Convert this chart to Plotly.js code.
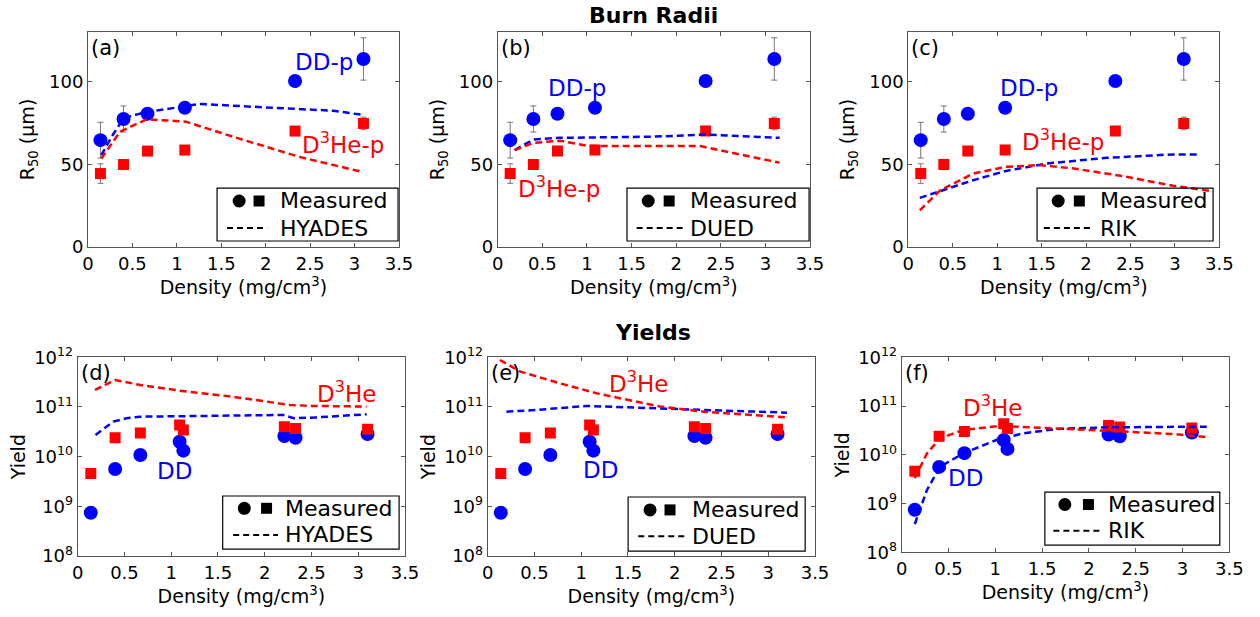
<!DOCTYPE html>
<html><head><meta charset="utf-8">
<script src="https://cdn.plot.ly/plotly-3.0.1.min.js"></script>
<style>html,body{margin:0;padding:0;background:#fff}</style>
</head><body><div id="chart" style="width:1260px;height:617px"></div>
<script>
// ---------- Measured burn radii (R50, µm) ----------
const radDensity = [0.14, 0.40, 0.67, 1.09, 2.33, 3.10];
const ddpR50 = [64.6, 77.4, 80.6, 84.2, 100.4, 113.7];
const ddpR50Err = [10.8, 7.9, 2, 2, 2, 12.8];
const d3hepR50 = [44.4, 49.9, 58.0, 58.6, 70.1, 74.7];
const d3hepR50Err = [5.9, 2, 2, 2, 2, 3.8];

// ---------- Simulated burn radii ----------
const hyadesDdpX = [0.15, 0.27, 0.40, 0.66, 0.81, 1.10, 1.26, 2.0, 2.76, 3.10];
const hyadesDdpR = [55.5, 67, 77.8, 81.8, 82.8, 85.3, 86.5, 84.4, 82.4, 79.8];
const hyadesD3hepX = [0.15, 0.36, 0.66, 1.10, 1.63, 2.38, 3.08];
const hyadesD3hepR = [53.5, 69.7, 77.2, 75.8, 66.7, 54.5, 45.5];

const duedDdpX = [0.19, 0.40, 0.70, 1.74, 2.34, 3.16];
const duedDdpR = [58.6, 65, 66, 66.7, 68, 66];
const duedD3hepX = [0.19, 0.40, 0.70, 1.03, 2.27, 3.16];
const duedD3hepR = [58.6, 63, 64.2, 61, 61, 51];

const rikDdpX = [0.13, 0.36, 0.73, 1.10, 1.56, 2.23, 2.98, 3.26];
const rikDdpR = [29.7, 33.7, 40.4, 46, 50.5, 53.9, 56, 56];
const rikD3hepX = [0.13, 0.36, 0.73, 1.10, 1.48, 1.86, 2.42, 2.98, 3.39];
const rikD3hepR = [22.2, 34.3, 44.4, 48.5, 49.5, 47.5, 42.8, 37, 34];

// ---------- Measured yields ----------
const yieldDensity = [0.14, 0.40, 0.67, 1.09, 1.13, 2.21, 2.33, 3.10];
const ddYield = [7.45e8, 5.65e9, 1.08e10, 2.0e10, 1.32e10, 2.6e10, 2.4e10, 2.86e10];
const d3heYield = [4.6e9, 2.4e10, 3.0e10, 4.35e10, 3.45e10, 4.0e10, 3.7e10, 3.55e10];

// ---------- Simulated yields ----------
const hyadesDdYX = [0.19, 0.38, 0.52, 0.67, 2.2, 2.31, 2.55, 3.09];
const hyadesDdY = [2.73e10, 5.07e10, 5.92e10, 6.38e10, 6.9e10, 5.92e10, 6.17e10, 7.11e10];
const hyadesD3heYX = [0.185, 0.40, 0.67, 1.09, 1.66, 2.27, 2.50, 3.09];
const hyadesD3heY = [2.2e11, 3.5e11, 2.77e11, 2.13e11, 1.61e11, 1.1e11, 1.05e11, 1.02e11];

const duedDdYX = [0.2, 0.52, 1.06, 1.59, 2.31, 3.2];
const duedDdY = [8.05e10, 8.71e10, 1.05e11, 9.84e10, 8.71e10, 7.69e10];
const duedD3heYX = [0.13, 0.35, 0.77, 1.17, 1.84, 2.31, 3.2];
const duedD3heY = [8.83e11, 5.14e11, 3.0e11, 1.88e11, 1.02e11, 8.05e10, 6.19e10];

const rikDdYX = [0.14, 0.27, 0.41, 0.66, 1.01, 1.30, 1.66, 2.19, 3.26];
const rikDdY = [3.81e8, 1.9e9, 5.71e9, 1.07e10, 2.01e10, 2.76e10, 3.39e10, 3.66e10, 3.78e10];
const rikD3heYX = [0.14, 0.27, 0.41, 0.66, 1.05, 1.66, 2.37, 2.9, 3.29];
const rikD3heY = [3.3e9, 1.07e10, 2.18e10, 3.23e10, 3.9e10, 3.5e10, 2.99e10, 2.67e10, 2.29e10];

// ---------- Tick labels & texts ----------
const xTickVals = [0, 0.5, 1, 1.5, 2, 2.5, 3, 3.5];
const xTickText = ['0', '0.5', '1', '1.5', '2', '2.5', '3', '3.5'];
const rTickVals = [0, 50, 100];
const rTickText = ['0', '50', '100'];
const yTickVals = [1e8, 1e9, 1e10, 1e11, 1e12];
const yTickText = ['10<sup>8</sup>', '10<sup>9</sup>', '10<sup>10</sup>', '10<sup>11</sup>', '10<sup>12</sup>'];
const panelLetters = ['(a)', '(b)', '(c)', '(d)', '(e)', '(f)'];
const codeNames = ['HYADES', 'DUED', 'RIK', 'HYADES', 'DUED', 'RIK'];

const BLUE = 'rgb(0,0,255)', RED = 'rgb(255,0,0)';
const FONT = 'DejaVu Sans, Arial, sans-serif';

const traces = [];
function addPanel(i, xData, yA, yAErr, yB, yBErr, lines) {
  const xa = 'x' + (i === 0 ? '' : i + 1), ya = 'y' + (i === 0 ? '' : i + 1);
  const mk = (y, err, color, sym, size) => {
    const t = {x: xData, y: y, xaxis: xa, yaxis: ya, mode: 'markers', type: 'scatter',
      marker: {color: color, symbol: sym, size: size}, showlegend: false, hoverinfo: 'skip'};
    if (err) t.error_y = {type: 'data', array: err, visible: true, color: '#777', thickness: 1, width: 3};
    return t;
  };
  traces.push(mk(yA, yAErr, BLUE, 'circle', 14));
  traces.push(mk(yB, yBErr, RED, 'square', 11));
  lines.forEach(l => traces.push({x: l[0], y: l[1], xaxis: xa, yaxis: ya, mode: 'lines', type: 'scatter',
    line: {color: l[2], width: 2.5, dash: '7px,4px'}, showlegend: false, hoverinfo: 'skip'}));
}
addPanel(0, radDensity, ddpR50, ddpR50Err, d3hepR50, d3hepR50Err,
  [[hyadesDdpX, hyadesDdpR, BLUE], [hyadesD3hepX, hyadesD3hepR, RED]]);
addPanel(1, radDensity, ddpR50, ddpR50Err, d3hepR50, d3hepR50Err,
  [[duedDdpX, duedDdpR, BLUE], [duedD3hepX, duedD3hepR, RED]]);
addPanel(2, radDensity, ddpR50, ddpR50Err, d3hepR50, d3hepR50Err,
  [[rikDdpX, rikDdpR, BLUE], [rikD3hepX, rikD3hepR, RED]]);
addPanel(3, yieldDensity, ddYield, null, d3heYield, null,
  [[hyadesDdYX, hyadesDdY, BLUE], [hyadesD3heYX, hyadesD3heY, RED]]);
addPanel(4, yieldDensity, ddYield, null, d3heYield, null,
  [[duedDdYX, duedDdY, BLUE], [duedD3heYX, duedD3heY, RED]]);
addPanel(5, yieldDensity, ddYield, null, d3heYield, null,
  [[rikDdYX, rikDdY, BLUE], [rikD3heYX, rikD3heY, RED]]);

// layout geometry (pixels in 1260x617 page)
const W = 1260, H = 617;
const boxes = [
  [88, 399, 32, 247], [497.7, 810, 32, 247], [908.3, 1219.3, 32, 247],
  [77.7, 405, 357.3, 556], [487.7, 815, 357.3, 556], [901.7, 1229.3, 357.3, 552.3]
];
// legend geometry in axis-domain units: [boxL, boxR, boxB, boxT, row1, row2, circleX, squareX, dashL, dashR, textX]
const leg = [
  [0.415, 0.997, 0.028, 0.274, 0.214, 0.088, 0.486, 0.550, 0.447, 0.576, 0.610],
  [0.414, 0.997, 0.028, 0.274, 0.214, 0.088, 0.482, 0.549, 0.445, 0.600, 0.610],
  [0.414, 0.980, 0.028, 0.274, 0.214, 0.088, 0.482, 0.550, 0.436, 0.584, 0.610],
  [0.443, 0.982, 0.035, 0.302, 0.240, 0.106, 0.509, 0.577, 0.475, 0.612, 0.627],
  [0.429, 0.970, 0.025, 0.297, 0.232, 0.100, 0.496, 0.557, 0.460, 0.603, 0.617],
  [0.437, 0.971, 0.037, 0.309, 0.245, 0.110, 0.498, 0.570, 0.463, 0.605, 0.625]
];
// in-plot labels (data coords): [DDx, DDy, D3x, D3y]
const labelPos = [
  [2.66, 112, 2.87, 63], [0.89, 96, 0.69, 36], [1.36, 96, 1.74, 65],
  [1.04, 5.1e9, 2.87, 2.0e11], [1.21, 5.4e9, 1.61, 3.2e11], [0.68, 3.3e9, 0.965, 1.0e11]
];

const layout = {
  width: W, height: H, margin: {l: 0, r: 0, t: 0, b: 0},
  paper_bgcolor: 'white', plot_bgcolor: 'white',
  font: {family: FONT, color: 'black', size: 18},
  showlegend: false, annotations: [], shapes: []
};
boxes.forEach((b, i) => {
  const n = i === 0 ? '' : String(i + 1);
  const isLog = i >= 3;
  layout['xaxis' + n] = {
    domain: [b[0] / W, b[1] / W], anchor: 'y' + n, range: [0, 3.5],
    tickvals: xTickVals, ticktext: xTickText, ticks: 'inside', ticklen: 4, tickcolor: '#555',
    showline: true, linecolor: '#555', linewidth: 1, mirror: 'ticks', showgrid: false, zeroline: false,
    tickfont: {size: 18}, automargin: false,
    title: {text: 'Density (mg/cm<sup>3</sup>)', font: {size: 19}, standoff: 6}
  };
  layout['yaxis' + n] = {
    domain: [1 - b[3] / H, 1 - b[2] / H], anchor: 'x' + n,
    type: isLog ? 'log' : 'linear', range: isLog ? [8, 12] : [0, 130],
    tickvals: isLog ? yTickVals : rTickVals, ticktext: isLog ? yTickText : rTickText,
    ticks: 'inside', ticklen: 4, tickcolor: '#555',
    showline: true, linecolor: '#555', linewidth: 1, mirror: 'ticks', showgrid: false, zeroline: false,
    tickfont: {size: 18}, automargin: false,
    title: {text: isLog ? 'Yield' : 'R<sub>50</sub> (µm)', font: {size: 19}, standoff: isLog ? 3 : 9}
  };
  const xr = 'x' + n + ' domain', yr = 'y' + n + ' domain';
  const L = leg[i];
  layout.shapes.push({type: 'rect', xref: xr, yref: yr, x0: L[0], x1: L[1], y0: L[2], y1: L[3],
    line: {color: 'black', width: 1.2}, fillcolor: 'rgba(0,0,0,0)', layer: 'above'});
  layout.shapes.push({type: 'line', xref: xr, yref: yr, x0: L[8], x1: L[9], y0: L[5], y1: L[5],
    line: {color: 'black', width: 2, dash: '6px,4px'}});
  layout.shapes.push({type: 'circle', xref: xr, yref: yr, xsizemode: 'pixel', ysizemode: 'pixel',
    xanchor: L[6], yanchor: L[4], x0: -6.5, x1: 6.5, y0: -6.5, y1: 6.5, fillcolor: 'black', line: {width: 0}});
  layout.shapes.push({type: 'rect', xref: xr, yref: yr, xsizemode: 'pixel', ysizemode: 'pixel',
    xanchor: L[7], yanchor: L[4], x0: -5.5, x1: 5.5, y0: -5.5, y1: 5.5, fillcolor: 'black', line: {width: 0}});
  layout.annotations.push({xref: xr, yref: yr, x: L[10], y: L[4], xanchor: 'left', yanchor: 'middle',
    text: 'Measured', showarrow: false, font: {size: 22}});
  layout.annotations.push({xref: xr, yref: yr, x: L[10], y: L[5], xanchor: 'left', yanchor: 'middle',
    text: codeNames[i], showarrow: false, font: {size: 22}});
  layout.annotations.push({xref: xr, yref: yr, x: 0.003, y: 0.99, xanchor: 'left', yanchor: 'top',
    text: panelLetters[i], showarrow: false, font: {size: 21}});
  const P = labelPos[i];
  layout.annotations.push({xref: 'x' + n, yref: 'y' + n, x: P[0], y: isLog ? Math.log10(P[1]) : P[1],
    xanchor: 'center', yanchor: 'middle',
    text: isLog ? 'DD' : 'DD-p', showarrow: false, font: {size: 23, color: BLUE}});
  layout.annotations.push({xref: 'x' + n, yref: 'y' + n, x: P[2], y: isLog ? Math.log10(P[3]) : P[3],
    xanchor: 'center', yanchor: 'middle',
    text: isLog ? 'D<sup>3</sup>He' : 'D<sup>3</sup>He-p', showarrow: false, font: {size: 23, color: RED}});
});
layout.annotations.push({xref: 'paper', yref: 'paper', x: 653 / W, y: 1 - 15 / H, xanchor: 'center', yanchor: 'middle',
  text: '<b>Burn Radii</b>', showarrow: false, font: {size: 22}});
layout.annotations.push({xref: 'paper', yref: 'paper', x: 653 / W, y: 1 - 332 / H, xanchor: 'center', yanchor: 'middle',
  text: '<b>Yields</b>', showarrow: false, font: {size: 22}});

Plotly.newPlot('chart', traces, layout, {staticPlot: true, displayModeBar: false});
</script></body></html>
